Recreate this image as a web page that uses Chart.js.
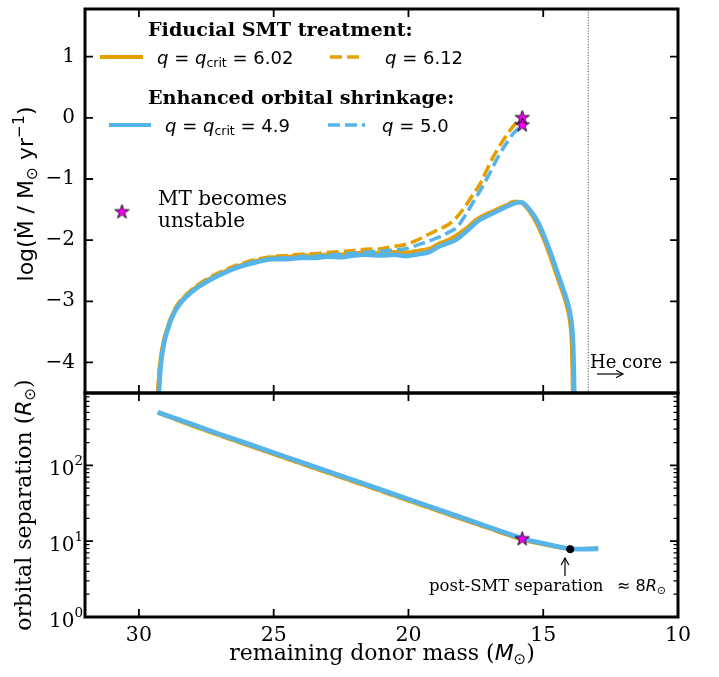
<!DOCTYPE html>
<html><head><meta charset="utf-8">
<script src="https://cdn.jsdelivr.net/npm/chart.js@4"></script>
<style>
html,body{margin:0;padding:0;background:#fff;}
#wrap{position:relative;width:719px;height:677px;overflow:hidden;}
canvas{position:absolute;left:0;top:0;}
</style></head><body>
<div id="wrap"><canvas id="c1" width="719" height="677"></canvas><canvas id="c2" width="719" height="677"></canvas></div>
<script>
// ---------------- data ----------------
const xTicks = [30, 25, 20, 15, 10];
const yTicksTop = [1, 0, -1, -2, -3, -4];
const yTicksBottom = [1, 10, 100];
const yTickExpBottom = ['0', '1', '2'];
const heCoreMass = 13.33;

// top panel: log10 mass-transfer rate vs remaining donor mass
const massSolidOrange = [29.3, 29.24, 29.1, 28.93, 28.8, 28.62, 28.42, 28.12, 27.8, 27.42, 27.17, 26.72, 26.3, 25.7, 25.07, 24.5, 24.0, 23.44, 23.0, 22.5, 22.0, 21.6, 21.0, 20.5, 20.1, 19.63, 19.2, 18.9, 18.6, 18.3, 17.85, 17.45, 17.05, 16.7, 16.35, 16.1, 15.9, 15.75, 15.53, 15.27, 15.02, 14.77, 14.52, 14.26, 14.12, 14.02, 13.96, 13.94, 13.92, 13.91];
const mdotSolidOrange = [-4.5, -4.1, -3.69, -3.42, -3.26, -3.1, -2.98, -2.85, -2.74, -2.64, -2.58, -2.49, -2.42, -2.34, -2.28, -2.27, -2.25, -2.25, -2.23, -2.23, -2.21, -2.2, -2.21, -2.19, -2.2, -2.17, -2.13, -2.06, -2.01, -1.94, -1.8, -1.65, -1.56, -1.49, -1.42, -1.37, -1.37, -1.41, -1.52, -1.71, -1.95, -2.24, -2.56, -2.89, -3.1, -3.32, -3.6, -3.85, -4.2, -4.5];

const massDashOrange = [29.3, 29.24, 29.1, 28.93, 28.8, 28.62, 28.42, 28.12, 27.8, 27.42, 27.17, 26.72, 26.3, 25.7, 25.07, 24.5, 24.0, 23.44, 23.0, 22.5, 22.0, 21.6, 21.0, 20.5, 20.1, 19.63, 19.37, 18.9, 18.5, 18.2, 17.9, 17.6, 17.33, 16.93, 16.56, 16.19, 15.93, 15.78];
const mdotDashOrange = [-4.5, -4.1, -3.68, -3.41, -3.25, -3.09, -2.97, -2.84, -2.73, -2.62, -2.56, -2.47, -2.4, -2.32, -2.27, -2.25, -2.23, -2.22, -2.2, -2.19, -2.17, -2.15, -2.14, -2.1, -2.07, -1.99, -1.93, -1.83, -1.74, -1.62, -1.45, -1.25, -1.07, -0.7, -0.42, -0.18, -0.05, 0.0];

const massSolidBlue = [29.26, 29.2, 29.07, 28.9, 28.78, 28.6, 28.4, 28.1, 27.78, 27.4, 27.15, 26.7, 26.3, 25.7, 25.07, 24.5, 24.0, 23.44, 23.0, 22.5, 22.0, 21.6, 21.0, 20.5, 20.1, 19.63, 19.2, 18.9, 18.6, 18.26, 17.8, 17.4, 17.0, 16.67, 16.3, 16.0, 15.8, 15.67, 15.45, 15.19, 14.95, 14.7, 14.45, 14.19, 14.05, 13.96, 13.9, 13.88, 13.86, 13.85];
const mdotSolidBlue = [-4.5, -4.1, -3.69, -3.42, -3.27, -3.12, -3.0, -2.87, -2.76, -2.66, -2.6, -2.51, -2.44, -2.37, -2.31, -2.31, -2.29, -2.29, -2.27, -2.28, -2.25, -2.24, -2.25, -2.24, -2.26, -2.23, -2.19, -2.11, -2.06, -2.0, -1.84, -1.68, -1.59, -1.52, -1.44, -1.39, -1.38, -1.42, -1.53, -1.71, -1.95, -2.24, -2.56, -2.89, -3.1, -3.32, -3.6, -3.85, -4.2, -4.5];

const massDashBlue = [29.26, 29.2, 29.07, 28.9, 28.78, 28.6, 28.4, 28.1, 27.78, 27.4, 27.15, 26.7, 26.3, 25.7, 25.07, 24.5, 24.0, 23.44, 23.0, 22.5, 22.0, 21.6, 21.0, 20.5, 20.1, 19.6, 19.15, 18.8, 18.5, 18.2, 17.9, 17.6, 17.3, 17.0, 16.7, 16.4, 16.1, 15.78];
const mdotDashBlue = [-4.5, -4.1, -3.69, -3.42, -3.27, -3.12, -3.0, -2.87, -2.76, -2.65, -2.59, -2.5, -2.43, -2.35, -2.3, -2.29, -2.27, -2.26, -2.24, -2.23, -2.21, -2.2, -2.18, -2.16, -2.14, -2.07, -2.0, -1.94, -1.87, -1.79, -1.6, -1.38, -1.16, -0.92, -0.66, -0.44, -0.25, -0.12];

const starMass = [15.78, 15.78];
const starMdot = [0.0, -0.12];

// bottom panel: orbital separation (R_sun) vs remaining donor mass
const massSep = [29.3, 28, 27, 26, 25, 24, 23, 22, 21, 20, 19, 18, 17, 16, 15.5, 15, 14.5, 14.0, 13.5, 12.96];
const sepSolidBlue = [500, 345, 258, 195, 147, 111, 83.5, 63, 47.5, 35.8, 27, 20.3, 15.3, 11.5, 10.2, 9.33, 8.56, 7.85, 7.85, 7.95];
const sepSolidOrange = [490, 330, 246, 185, 140, 105, 79.5, 60, 45.2, 34, 25.7, 19.3, 14.6, 11.0, 9.8, 9.0, 8.3, 7.85, 7.95, 8.05];
const massSepDash = [29.3, 28, 27, 26, 25, 24, 23, 22, 21, 20, 19, 18, 17, 16, 15.78];
const sepDashOrange = [490, 330, 246, 185, 140, 105, 79.5, 60, 45.2, 34, 25.7, 19.3, 14.6, 11.0, 10.3];
const sepDashBlue = [500, 345, 258, 195, 147, 111, 83.5, 63, 47.5, 35.8, 27, 20.3, 15.3, 11.5, 10.7];
const starSepMass = [15.78];
const starSep = [10.7];
const postSmtMass = [14.0];
const postSmtSep = [7.85];

// ---------------- styling helpers ----------------
const ORANGE = '#E69F00';
const BLUE = '#56B4E9';
const MAGENTA = '#FF00FF';
const SERIF = "'DejaVu Serif'";
const SANS = "'DejaVu Sans'";
const DASH = [12, 5];

function pts(xs, ys) { return xs.map((x, i) => ({x: x, y: ys[i]})); }

function starImg(r) {
  const s = Math.ceil(2 * r + 4);
  const c = document.createElement('canvas');
  c.width = s; c.height = s;
  const g = c.getContext('2d');
  g.beginPath();
  for (let i = 0; i < 10; i++) {
    const a = -Math.PI / 2 + i * Math.PI / 5;
    const rr = (i % 2) ? r * 0.382 : r;
    g.lineTo(s / 2 + rr * Math.cos(a), s / 2 + rr * Math.sin(a));
  }
  g.closePath();
  g.fillStyle = MAGENTA; g.fill();
  g.lineWidth = 0.9; g.strokeStyle = '#000'; g.stroke();
  return c;
}
const STAR = starImg(7.5);

function runsWidth(ctx, parts) {
  let w = 0;
  for (const p of parts) { ctx.font = p.f; w += ctx.measureText(p.t).width; }
  return w;
}
function drawRuns(ctx, parts, x, y, align) {
  let cx = x;
  if (align === 'center') cx = x - runsWidth(ctx, parts) / 2;
  if (align === 'right') cx = x - runsWidth(ctx, parts);
  ctx.textAlign = 'left';
  ctx.textBaseline = 'alphabetic';
  for (const p of parts) {
    ctx.font = p.f;
    ctx.fillText(p.t, cx, y + (p.dy || 0));
    cx += ctx.measureText(p.t).width;
  }
  return cx;
}
function drawArrow(ctx, x1, y1, x2, y2, head) {
  ctx.save();
  ctx.strokeStyle = '#000'; ctx.lineWidth = 1.2; ctx.setLineDash([]);
  ctx.beginPath(); ctx.moveTo(x1, y1); ctx.lineTo(x2, y2); ctx.stroke();
  const a = Math.atan2(y2 - y1, x2 - x1);
  ctx.beginPath();
  ctx.moveTo(x2 - head * Math.cos(a - 0.5), y2 - head * Math.sin(a - 0.5));
  ctx.lineTo(x2, y2);
  ctx.lineTo(x2 - head * Math.cos(a + 0.5), y2 - head * Math.sin(a + 0.5));
  ctx.stroke();
  ctx.restore();
}
function drawFrame(chart, yMajor, yMinor) {
  const ctx = chart.ctx, a = chart.chartArea;
  const xs = chart.scales.x, ys = chart.scales.y;
  ctx.save();
  ctx.strokeStyle = '#000';
  ctx.setLineDash([]);
  ctx.lineWidth = 1.8;
  ctx.beginPath();
  for (const v of xTicks) {
    const px = xs.getPixelForValue(v);
    ctx.moveTo(px, a.top); ctx.lineTo(px, a.top + 8);
    ctx.moveTo(px, a.bottom); ctx.lineTo(px, a.bottom - 8);
  }
  for (const v of yMajor) {
    const py = ys.getPixelForValue(v);
    ctx.moveTo(a.left, py); ctx.lineTo(a.left + 8, py);
    ctx.moveTo(a.right, py); ctx.lineTo(a.right - 8, py);
  }
  ctx.stroke();
  if (yMinor) {
    ctx.lineWidth = 1.2;
    ctx.beginPath();
    for (const v of yMinor) {
      const py = ys.getPixelForValue(v);
      ctx.moveTo(a.left, py); ctx.lineTo(a.left + 4.5, py);
      ctx.moveTo(a.right, py); ctx.lineTo(a.right - 4.5, py);
    }
    ctx.stroke();
  }
  ctx.lineWidth = 3;
  ctx.strokeRect(a.left, a.top, a.right - a.left, a.bottom - a.top);
  ctx.restore();
}
const fmtMinus = v => (v < 0 ? '\u2212' + Math.abs(v) : String(v));

Chart.defaults.font.family = SERIF;
Chart.defaults.color = '#000';

// ---------------- top panel ----------------
const topPlugin = {
  id: 'topDeco',
  beforeDatasetsDraw(chart) {
    const ctx = chart.ctx, a = chart.chartArea;
    const px = chart.scales.x.getPixelForValue(heCoreMass);
    ctx.save();
    ctx.strokeStyle = '#000'; ctx.lineWidth = 0.8; ctx.setLineDash([1, 1.7]);
    ctx.beginPath(); ctx.moveTo(px, a.top); ctx.lineTo(px, a.bottom); ctx.stroke();
    ctx.restore();
  },
  afterDraw(chart) {
    const ctx = chart.ctx;
    drawFrame(chart, yTicksTop, null);
    ctx.save();
    ctx.fillStyle = '#000';
    // legend titles
    const bold = 'bold 19.2px ' + SERIF;
    drawRuns(ctx, [{t: 'Fiducial SMT treatment:', f: bold}], 148, 36);
    drawRuns(ctx, [{t: 'Enhanced orbital shrinkage:', f: bold}], 148, 104);
    const it = 'italic 18px ' + SANS, rm = '18px ' + SANS, sub = '12.5px ' + SANS;
    // legend samples
    function sample(x1, x2, y, color, dashed) {
      ctx.save();
      ctx.strokeStyle = color; ctx.lineWidth = dashed ? 3.5 : 3.8;
      ctx.setLineDash(dashed ? DASH : []);
      ctx.beginPath(); ctx.moveTo(x1, y); ctx.lineTo(x2, y); ctx.stroke();
      ctx.restore();
    }
    sample(100, 143, 57, ORANGE, false);
    sample(330, 363, 57, ORANGE, true);
    sample(109, 151, 125, BLUE, false);
    sample(328, 365, 125, BLUE, true);
    drawRuns(ctx, [{t: 'q', f: it}, {t: ' = ', f: rm}, {t: 'q', f: it}, {t: 'crit', f: sub, dy: 3}, {t: ' = 6.02', f: rm}], 157, 64);
    drawRuns(ctx, [{t: 'q', f: it}, {t: ' = 6.12', f: rm}], 385, 64);
    drawRuns(ctx, [{t: 'q', f: it}, {t: ' = ', f: rm}, {t: 'q', f: it}, {t: 'crit', f: sub, dy: 3}, {t: ' = 4.9', f: rm}], 165, 132);
    drawRuns(ctx, [{t: 'q', f: it}, {t: ' = 5.0', f: rm}], 382, 132);
    // star legend
    ctx.drawImage(STAR, 122 - STAR.width / 2, 212 - STAR.height / 2);
    const ser20 = '20px ' + SERIF;
    drawRuns(ctx, [{t: 'MT becomes', f: ser20}], 158, 205);
    drawRuns(ctx, [{t: 'unstable', f: ser20}], 158, 227);
    // He core
    drawRuns(ctx, [{t: 'He core', f: '18px ' + SERIF}], 590, 368);
    drawArrow(ctx, 597, 374, 623, 374, 8);
    // y title
    ctx.save();
    ctx.translate(33, 194);
    ctx.rotate(-Math.PI / 2);
    const f22 = '22px ' + SANS, f15 = '15.5px ' + SANS;
    const parts = [{t: 'log(', f: f22}, {t: '\u1E40', f: f22}, {t: ' / M', f: f22}, {t: '\u2299', f: f15, dy: 4}, {t: ' yr', f: f22}, {t: '\u22121', f: f15, dy: -9}, {t: ')', f: f22}];
    drawRuns(ctx, parts, 0, 0, 'center');
    ctx.restore();
    ctx.restore();
  }
};

new Chart(document.getElementById('c1'), {
  type: 'line',
  data: {
    datasets: [
      {data: pts(starMass, starMdot), showLine: false, pointStyle: STAR, pointRadius: 8, order: 0},
      {data: pts(massDashBlue, mdotDashBlue), borderColor: BLUE, borderWidth: 3.6, borderDash: DASH, pointRadius: 0, cubicInterpolationMode: 'monotone', order: 1},
      {data: pts(massSolidBlue, mdotSolidBlue), borderColor: BLUE, borderWidth: 4.6, pointRadius: 0, cubicInterpolationMode: 'monotone', order: 2},
      {data: pts(massDashOrange, mdotDashOrange), borderColor: ORANGE, borderWidth: 3.6, borderDash: DASH, pointRadius: 0, cubicInterpolationMode: 'monotone', order: 3},
      {data: pts(massSolidOrange, mdotSolidOrange), borderColor: ORANGE, borderWidth: 3.6, pointRadius: 0, cubicInterpolationMode: 'monotone', order: 4}
    ]
  },
  options: {
    responsive: false, animation: false, events: [],
    layout: {padding: {left: 0, top: 4, right: 41, bottom: 284}},
    plugins: {legend: {display: false}, tooltip: {enabled: false}},
    scales: {
      x: {type: 'linear', min: 10, max: 32, reverse: true, display: false},
      y: {
        type: 'linear', min: -4.5, max: 1.78,
        afterBuildTicks: s => { s.ticks = yTicksTop.map(v => ({value: v})); },
        ticks: {callback: v => fmtMinus(v), padding: 10, font: {family: SERIF, size: 20}, color: '#000'},
        grid: {display: false, drawTicks: false}, border: {display: false},
        afterFit: s => { s.width = 85; s.paddingTop = 0; s.paddingBottom = 0; }
      }
    }
  },
  plugins: [topPlugin]
});

// ---------------- bottom panel ----------------
const minorTicks = [];
for (const d of [1, 10, 100]) for (let k = 2; k <= 9; k++) if (k * d < 900) minorTicks.push(k * d);

const bottomPlugin = {
  id: 'bottomDeco',
  afterDraw(chart) {
    const ctx = chart.ctx;
    drawFrame(chart, yTicksBottom, minorTicks);
    ctx.save();
    ctx.fillStyle = '#000';
    // y tick labels 10^n
    yTicksBottom.forEach((v, i) => {
      const py = chart.scales.y.getPixelForValue(v);
      drawRuns(ctx, [{t: '10', f: '20px ' + SERIF}, {t: yTickExpBottom[i], f: '13.5px ' + SERIF, dy: -10}], 83, py + 10, 'right');
    });
    // annotation
    drawArrow(ctx, 565, 576, 565, 558, 8);
    drawRuns(ctx, [{t: 'post-SMT separation', f: '16.5px ' + SERIF}], 429, 591);
    drawRuns(ctx, [{t: '\u2248 8', f: '16px ' + SANS}, {t: 'R', f: 'italic 16px ' + SANS}, {t: '\u2299', f: '11px ' + SANS, dy: 3}], 617, 591);
    // x title
    const f22s = '22px ' + SERIF;
    drawRuns(ctx, [{t: 'remaining donor mass (', f: f22s}, {t: 'M', f: 'italic 22px ' + SANS}, {t: '\u2299', f: '15px ' + SANS, dy: 4}, {t: ')', f: f22s}], 382, 660, 'center');
    // y title
    ctx.save();
    ctx.translate(31, 505);
    ctx.rotate(-Math.PI / 2);
    drawRuns(ctx, [{t: 'orbital separation (', f: f22s}, {t: 'R', f: 'italic 22px ' + SANS}, {t: '\u2299', f: '15px ' + SANS, dy: 4}, {t: ')', f: f22s}], 0, 0, 'center');
    ctx.restore();
    ctx.restore();
  }
};

new Chart(document.getElementById('c2'), {
  type: 'line',
  data: {
    datasets: [
      {data: pts(postSmtMass, postSmtSep), showLine: false, pointRadius: 3.6, pointBackgroundColor: '#000', pointBorderColor: '#000', order: 0},
      {data: pts(starSepMass, starSep), showLine: false, pointStyle: STAR, pointRadius: 8, order: 0},
      {data: pts(massSepDash, sepDashBlue), borderColor: BLUE, borderWidth: 3.6, borderDash: DASH, pointRadius: 0, order: 1},
      {data: pts(massSep, sepSolidBlue), borderColor: BLUE, borderWidth: 4.8, pointRadius: 0, order: 2},
      {data: pts(massSepDash, sepDashOrange), borderColor: ORANGE, borderWidth: 3.4, borderDash: DASH, pointRadius: 0, order: 3},
      {data: pts(massSep, sepSolidOrange), borderColor: ORANGE, borderWidth: 3.4, pointRadius: 0, order: 4}
    ]
  },
  options: {
    responsive: false, animation: false, events: [],
    layout: {padding: {left: 0, top: 393, right: 41, bottom: 0}},
    plugins: {legend: {display: false}, tooltip: {enabled: false}},
    scales: {
      x: {
        type: 'linear', min: 10, max: 32, reverse: true,
        afterBuildTicks: s => { s.ticks = xTicks.map(v => ({value: v})); },
        ticks: {padding: 6, font: {family: SERIF, size: 20.5}, color: '#000', maxRotation: 0},
        grid: {display: false, drawTicks: false}, border: {display: false},
        afterFit: s => { s.height = 60; s.paddingLeft = 0; s.paddingRight = 0; }
      },
      y: {
        type: 'logarithmic', min: 1, max: 900,
        afterBuildTicks: s => { s.ticks = yTicksBottom.map(v => ({value: v})); },
        ticks: {display: false},
        grid: {display: false, drawTicks: false}, border: {display: false},
        afterFit: s => { s.width = 85; s.paddingTop = 0; s.paddingBottom = 0; }
      }
    }
  },
  plugins: [bottomPlugin]
});
</script>
</body></html>
